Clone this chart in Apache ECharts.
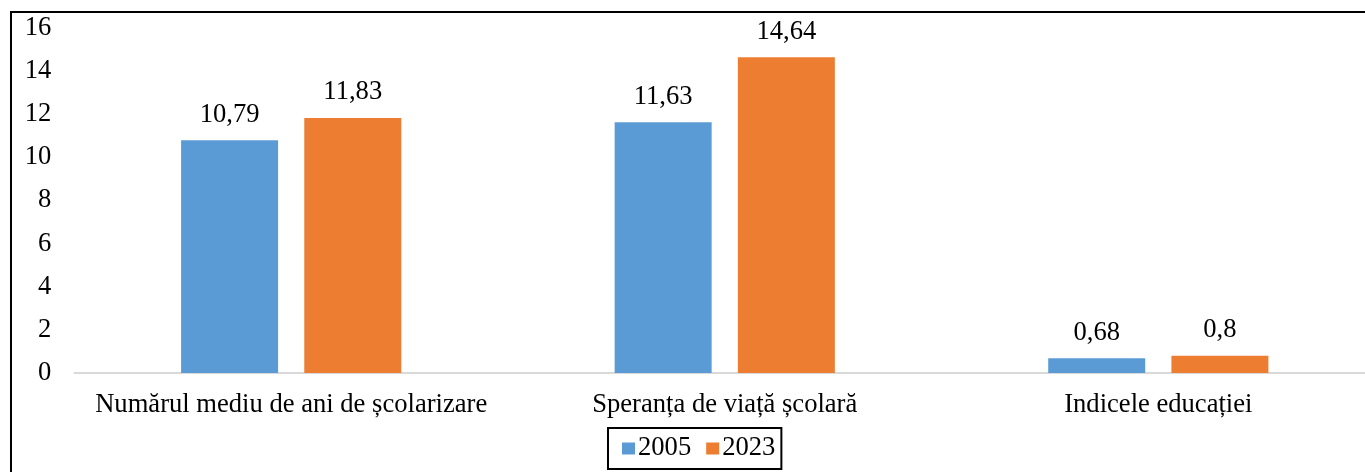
<!DOCTYPE html>
<html>
<head>
<meta charset="utf-8">
<script src="https://cdn.jsdelivr.net/npm/echarts@6/dist/echarts.min.js"></script>
<style>
  html, body { margin: 0; padding: 0; background: #fff; }
  #chart { width: 1365px; height: 472px; }
</style>
</head>
<body>
<div id="chart"></div>
<script>
// Education indicators, 2005 vs 2023
const categories = [
  'Numărul mediu de ani de școlarizare',
  'Speranța de viață școlară',
  'Indicele educației'
];
const years = ['2005', '2023'];
const values2005 = [10.79, 11.63, 0.68];
const values2023 = [11.83, 14.64, 0.8];
const yTicks = { min: 0, max: 16, interval: 2 };

const FONT = '"Liberation Serif", "Times New Roman", serif';
const FS = 26.6;
const fmtComma = p => String(p.value).replace('.', ',');

const chart = echarts.init(document.getElementById('chart'), null, { renderer: 'canvas' });

const barSeries = (name, data, color) => ({
  name,
  type: 'bar',
  data,
  barWidth: 97,
  barGap: '27%',
  itemStyle: { color },
  label: {
    show: true,
    position: 'top',
    distance: 12,
    formatter: fmtComma,
    fontFamily: FONT,
    fontSize: FS,
    color: '#000'
  }
});

chart.setOption({
  animation: false,
  backgroundColor: '#fff',
  textStyle: { fontFamily: FONT },
  // plot area runs slightly past the right edge of the canvas
  grid: {
    left: 74.4, width: 1300.7, top: 28, bottom: 99,
    containLabel: false, outerBoundsMode: 'none'
  },
  graphic: [
    {
      type: 'rect',
      z: 100,
      silent: true,
      shape: { x: 11, y: 12, width: 1400, height: 500 },
      style: { fill: 'none', stroke: '#000', lineWidth: 2 }
    }
  ],
  legend: {
    data: years,
    left: 608,
    top: 428,
    itemWidth: 13,
    itemHeight: 12,
    itemGap: 15,
    icon: 'rect',
    padding: [7, 6, 7, 14],
    borderColor: '#000',
    borderWidth: 2,
    textStyle: { fontFamily: FONT, fontSize: FS, color: '#000', padding: [0, 0, 0, -2] }
  },
  xAxis: {
    type: 'category',
    data: categories,
    axisLine: { show: true, lineStyle: { color: '#d9d9d9', width: 2 } },
    axisTick: { show: false },
    axisLabel: {
      interval: 0,
      margin: 19,
      fontFamily: FONT,
      fontSize: FS,
      color: '#000'
    }
  },
  yAxis: {
    type: 'value',
    min: yTicks.min,
    max: yTicks.max,
    interval: yTicks.interval,
    axisLine: { show: false },
    axisTick: { show: false },
    splitLine: { show: false },
    axisLabel: {
      margin: 23,
      fontFamily: FONT,
      fontSize: FS,
      color: '#000'
    }
  },
  series: [
    barSeries(years[0], values2005, '#5b9bd5'),
    barSeries(years[1], values2023, '#ed7d31')
  ]
});
</script>
</body>
</html>
